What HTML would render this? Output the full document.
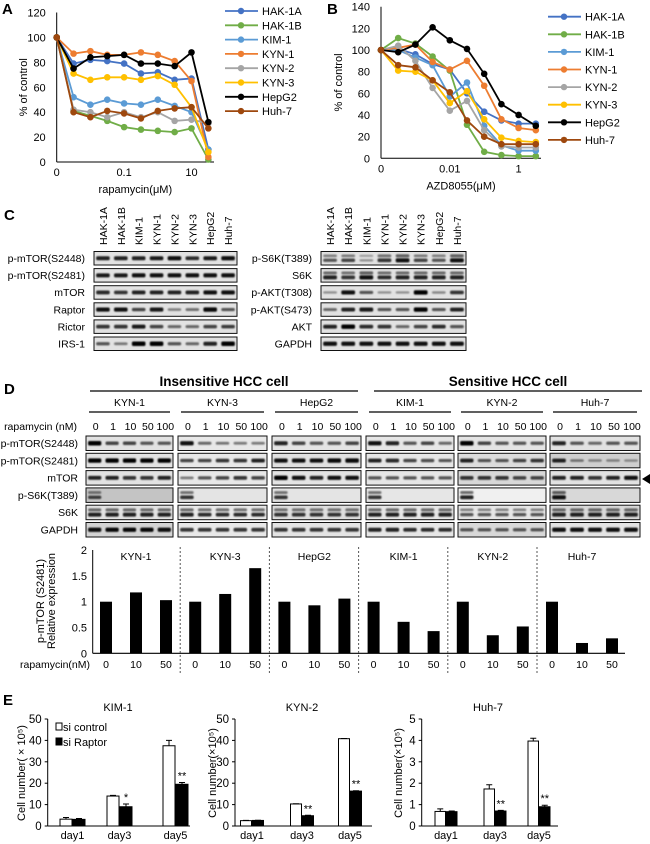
<!DOCTYPE html>
<html><head><meta charset="utf-8">
<style>
html,body{margin:0;padding:0;background:#fff;}
svg{display:block;font-family:"Liberation Sans",Arial,sans-serif;}
</style></head>
<body>
<svg id="fig" width="650" height="844" viewBox="0 0 650 844" xmlns="http://www.w3.org/2000/svg">
<defs><filter id="blur" x="-20%" y="-50%" width="140%" height="200%"><feGaussianBlur stdDeviation="0.7"/></filter></defs>
</svg>
<script>
// ===== Panel A data =====
const aSeriesNames = ["HAK-1A","HAK-1B","KIM-1","KYN-1","KYN-2","KYN-3","HepG2","Huh-7"];
const aHAK1A = [100,79,82,81,79,71,72,66,67,10];
const aHAK1B = [100,41,37,33,28,26,25,24,27,2];
const aKIM1  = [100,52,46,50,47,46,50,45,40,10];
const aKYN1  = [100,87,89,86,86,88,86,81,65,4];
const aKYN2  = [100,42,40,36,40,36,40,33,34,31];
const aKYN3  = [100,71,66,68,68,66,69,62,44,8];
const aHepG2 = [100,75,84,85,86,79,79,77,88,32];
const aHuh7  = [100,40,36,41,39,35,41,43,44,27];
const aYTicks = [0,20,40,60,80,100,120];
const aXTickLabels = ["0","0.1","10"];
const aXTickIndex = [0,4,8];
// ===== Panel B data =====
const bHAK1A = [100,101,96,87,82,60,43,35,32,32];
const bHAK1B = [100,111,106,94,81,31,6,3,2,2];
const bKIM1  = [100,100,93,86,57,70,30,12,7,7];
const bKYN1  = [100,102,105,89,82,90,67,36,28,26];
const bKYN2  = [100,104,90,65,44,53,26,11,10,10];
const bKYN3  = [100,81,80,72,51,62,36,19,16,15];
const bHepG2 = [100,98,105,121,109,101,78,50,40,30];
const bHuh7  = [100,86,84,72,61,35,20,13,13,13];
const bYTicks = [0,20,40,60,80,100,120,140];
const bXTickLabels = ["0","0.01","1"];
const bXTickIndex = [0,4,8];
const seriesColors = ["#4472c4","#70ad47","#5b9bd5","#ed7d31","#a5a5a5","#ffc000","#000000","#9e480e"];
// ===== Panel D bar chart data =====
const dGroups = ["KYN-1","KYN-3","HepG2","KIM-1","KYN-2","Huh-7"];
const dDoses = ["0","10","50"];
const dValues = [[1,1.18,1.03],[1,1.15,1.65],[1,0.93,1.06],[1,0.61,0.43],[1,0.35,0.52],[1,0.2,0.29]];
const dYTicks = [0,0.5,1,1.5,2];
const dYTickLabels = ["0","0.5","1","1.5","2"];
// ===== Panel E data =====
const eCats = ["day1","day3","day5"];
const eTitles = ["KIM-1","KYN-2","Huh-7"];
const eCtrl = [[3.2,14,37.5],[2.5,10.3,40.8],[0.68,1.73,3.97]];
const eCtrlErr = [[0.8,0.3,2.5],[0.1,0.1,0.1],[0.12,0.2,0.13]];
const eRap = [[3.1,9,19.5],[2.6,4.8,16.3],[0.67,0.7,0.9]];
const eRapErr = [[0.4,1.3,0.8],[0.1,0.2,0.2],[0.03,0.03,0.07]];
const eStars = [["","*","**"],["","**","**"],["","**","**"]];
const eYMax = [50,50,5];
const eYTicks = [[0,10,20,30,40,50],[0,10,20,30,40,50],[0,1,2,3,4,5]];

const NS="http://www.w3.org/2000/svg";
const svg=document.getElementById("fig");
function el(tag,attrs,parent){const e=document.createElementNS(NS,tag);for(const k in attrs)e.setAttribute(k,attrs[k]);(parent||svg).appendChild(e);return e;}
function tx(x,y,s,size,anchor,parent,weight){const t=el("text",{x:x,y:y,"font-size":size,"text-anchor":anchor||"start",fill:"#000"},parent);if(weight)t.setAttribute("font-weight",weight);t.textContent=s;return t;}

[["A",2,14],["B",327,14],["C",4,220],["D",4,394],["E",3,705]].forEach(p=>{
  const t=tx(p[1],p[2],p[0],15,"start",null,"bold");
  
  
});

function lineChart(prefix,series,yTicks,yMax,x0,step,yZero,yTop,axisRight,tickLabels,tickIdx,xTitle,legX,legY0,legDy,yTitleX){
  const g=el("g",{});
  
  
  const yS=v=>yZero-(v/yMax)*(yZero-yTop);
  const xS=i=>x0+i*step;
  yTicks.forEach(v=>{
    const t=tx(x0-11,yS(v)+4,String(v),11,"end",g);
    
    
  });
  const ya=el("line",{x1:x0,y1:yTop,x2:x0,y2:yZero,stroke:"#000","stroke-width":1},g);
  
  
  const xa=el("line",{x1:x0,y1:yZero,x2:axisRight,y2:yZero,stroke:"#000","stroke-width":1},g);
  
  
  tickLabels.forEach((s,k)=>{
    const t=tx(xS(tickIdx[k]),yZero+14,s,11,"middle",g);
    
    
  });
  const xt=tx((x0+axisRight)/2,yZero+31,xTitle,11,"middle",g);
  
  
  const yt=tx(0,0,"% of control",11,"middle",g);
  yt.setAttribute("transform","translate("+yTitleX+","+((yZero+yTop)/2)+") rotate(-90)");
  
  
  series.forEach((vals,si)=>{
    const c=seriesColors[si];
    const pts=vals.map((v,i)=>xS(i).toFixed(1)+","+yS(v).toFixed(1)).join(" ");
    const pl=el("polyline",{points:pts,fill:"none",stroke:c,"stroke-width":1.8},g);
    
    
    vals.forEach((v,i)=>{
      const m=el("circle",{cx:xS(i),cy:yS(v),r:3.3,fill:c},g);
      
      
    });
    const ly=legY0+si*legDy;
    const ll=el("line",{x1:legX,y1:ly,x2:legX+33,y2:ly,stroke:c,"stroke-width":1.8},g);
    
    
    const lc=el("circle",{cx:legX+16,cy:ly,r:3.2,fill:c},g);
    
    
    const lt=tx(legX+37,ly+4,aSeriesNames[si],11,"start",g);
    
    
  });
}
lineChart("a",[aHAK1A,aHAK1B,aKIM1,aKYN1,aKYN2,aKYN3,aHepG2,aHuh7],aYTicks,120,56.7,16.85,162,12.5,214,aXTickLabels,aXTickIndex,"rapamycin(μM)",225,11,14.3,27);
lineChart("b",[bHAK1A,bHAK1B,bKIM1,bKYN1,bKYN2,bKYN3,bHepG2,bHuh7],bYTicks,140,381,17.2,158.3,6.7,541,bXTickLabels,bXTickIndex,"AZD8055(μM)",548,16.7,17.6,342);

function blot(name,x,y,w,h,lanes,bg,double,parent){
  const r=el("rect",{x:x,y:y,width:w,height:h,fill:bg,stroke:"#111","stroke-width":1},parent);
  
  
  const n=lanes.length,lw=w/n;
  lanes.forEach((v,i)=>{
    if(v<=0)return;
    const cx=x+lw*(i+0.5);
    const bands=double?[[y+h*0.32,v*0.5],[y+h*0.65,v]]:[[y+h*0.5,v]];
    bands.forEach(b=>{
      const bh=2+b[1]*2.4;
      const e=el("rect",{x:cx-lw*0.38,y:b[0]-bh/2,width:lw*0.76,height:bh,rx:1.5,fill:"#000",opacity:(0.25+0.75*b[1]).toFixed(2),filter:"url(#blur)"},parent);
      
      
    });
  });
}
const cLines=["HAK-1A","HAK-1B","KIM-1","KYN-1","KYN-2","KYN-3","HepG2","Huh-7"];
const cLeftRows=["p-mTOR(S2448)","p-mTOR(S2481)","mTOR","Raptor","Rictor","IRS-1"];
const cLeftVals=[[.8,.8,.8,.85,.9,.75,.85,.9],[.85,.85,.9,.9,.9,.9,.9,.9],[.75,.7,.8,.8,.8,.8,.9,.9],[.9,.9,.6,.85,.25,.35,.95,.5],[.7,.7,.85,.6,.4,.4,.6,.65],[.5,.3,1,1,.5,.4,.8,1]];
const cRightRows=["p-S6K(T389)","S6K","p-AKT(T308)","p-AKT(S473)","AKT","GAPDH"];
const cRightVals=[[.5,.6,.15,.7,.9,.6,.5,.9],[.8,.7,.9,.75,.8,.8,.8,.8],[.15,.9,.5,.15,.15,1,.2,.7],[.4,.8,.85,.5,.5,1,.5,.8],[.8,1,.75,.7,.4,.6,.75,.5],[.9,.9,.9,.9,.9,.9,.9,.9]];
const cDouble=[true,true,false,false,false,false];
const cG=el("g",{});


[[94,143,cLeftRows,cLeftVals,false],[321,145,cRightRows,cRightVals,true]].forEach(side=>{
  const bx=side[0],bw=side[1];
  cLines.forEach((s,i)=>{
    const t=tx(0,0,s,10.5,"start",cG);
    t.setAttribute("transform","translate("+(bx+bw*(i+0.5)/8+4)+",245) rotate(-90)");
    
    
  });
  side[2].forEach((rn,ri)=>{
    const y=251.5+ri*17.1;
    const t=tx(bx-9,y+10.5,rn,10.5,"end",cG);
    
    
    blot('c-blot-row',bx,y,bw,13.5,side[3][ri],"#e2e2e2",side[4]&&cDouble[ri],cG);
  });
});

const dG=el("g",{});


const hdr=[["Insensitive HCC cell",90,358],["Sensitive HCC cell",374,642]];
hdr.forEach(h=>{
  const t=tx((h[1]+h[2])/2,386,h[0],13.5,"middle",dG,"bold");
  
  
  const l=el("line",{x1:h[1],y1:391,x2:h[2],y2:391,stroke:"#000","stroke-width":1.2},dG);
  
  
});
const dBoxes=[[86,87],[178,89],[272,89],[366,88],[458,88],[550,90]];
const dRows=["p-mTOR(S2448)","p-mTOR(S2481)","mTOR","p-S6K(T389)","S6K","GAPDH"];
const dLaneDoses=["0","1","10","50","100"];
const dBlotVals=[
 [[1,.6,.6,.5,.5],[.9,.4,.35,.3,.3],[.8,.6,.5,.5,.6],[.9,.8,.5,.6,.4],[1,.6,.5,.5,.5],[.8,.5,.4,.5,.5]],
 [[1,1,1,1,1],[.6,.6,.7,.7,.8],[.9,.9,.9,.95,.95],[.8,.75,.6,.55,.5],[.8,.5,.5,.6,.7],[.8,.3,.2,.2,.15]],
 [[.8,.8,.7,.7,.8],[.3,.5,.6,.7,.6],[1,.9,.8,.9,.9],[.5,.5,.5,.5,.5],[.7,.7,.7,.6,.6],[.8,.8,.7,.8,.9]],
 [[.6,0,0,0,0],[.7,0,0,0,0],[.7,0,0,0,0],[.7,0,0,0,0],[.8,0,0,0,0],[.9,0,0,0,0]],
 [[.8,.8,.8,.8,.8],[.8,.75,.75,.75,.75],[.7,.7,.7,.7,.7],[.8,.8,.8,.8,.8],[.5,.5,.5,.5,.5],[.8,.8,.8,.8,.8]],
 [[.9,.95,.95,.95,.9],[.7,.7,.7,.7,.7],[.7,.7,.7,.7,.7],[.8,.8,.75,.75,.75],[.5,.5,.5,.5,.5],[.9,.9,.9,.9,.9]]
];
const dBg=[["#e2e2e2","#e8e8e8","#e4e4e4","#e6e6e6","#e4e4e4","#e2e2e2"],["#e2e2e2","#e8e8e8","#e0e0e0","#e6e6e6","#dcdcdc","#cfcfcf"],["#e2e2e2","#e8e8e8","#e4e4e4","#e6e6e6","#d8d8d8","#e2e2e2"],["#c4c4c4","#e4e4e4","#e4e4e4","#e6e6e6","#f0f0f0","#d8d8d8"],["#e2e2e2","#e8e8e8","#dedede","#e6e6e6","#e6e6e6","#d8d8d8"],["#d4d4d4","#e8e8e8","#e4e4e4","#e6e6e6","#d8d8d8","#e4e4e4"]];
const dDoubleRows=[false,false,false,true,true,false];
dBoxes.forEach((b,gi)=>{
  const t=tx(b[0]+b[1]/2,406,dGroups[gi],10.5,"middle",dG);
  
  
  const l=el("line",{x1:b[0]+3,y1:412,x2:b[0]+b[1]-3,y2:412,stroke:"#000","stroke-width":1.2},dG);
  
  
  dLaneDoses.forEach((s,i)=>{
    const d=tx(b[0]+b[1]*(i+0.5)/5+1,430,s,10.5,"middle",dG);
    
    
  });
  dRows.forEach((rn,ri)=>{
    blot('d-blot-row',b[0],436+ri*17.3,b[1],14.5,dBlotVals[ri][gi],dBg[ri][gi],dDoubleRows[ri],dG);
  });
});
const rl=tx(77,430,"rapamycin (nM)",10.5,"end",dG);


dRows.forEach((rn,ri)=>{
  const t=tx(78,436+ri*17.3+11,rn,10.5,"end",dG);
  
  
});
const arrow=el("polygon",{points:"642,479 650,474 650,484",fill:"#000"},dG);



const bc=el("g",{});


const dY=v=>653.3-v*51.6;
const dGX=g=>106+g*89.2;
dYTicks.forEach((v,k)=>{
  const t=tx(87,dY(v)+4,dYTickLabels[k],11,"end",bc);
  
  
});
const dya=el("line",{x1:92.7,y1:550,x2:92.7,y2:653.3,stroke:"#000"},bc);


const dxa=el("line",{x1:92.7,y1:653.3,x2:625,y2:653.3,stroke:"#000","stroke-width":1.2},bc);


const dyt=el("text",{"font-size":11,"text-anchor":"middle",transform:"translate(49,601) rotate(-90)"},bc);


const ts1=el("tspan",{x:0,dy:-5},dyt);ts1.textContent="p-mTOR (S2481)";
const ts2=el("tspan",{x:0,dy:11},dyt);ts2.textContent="Relative expression";
dGroups.forEach((gname,g)=>{
  const gt=tx(dGX(g)+30,560,gname,10.5,"middle",bc);
  
  
  if(g>0){
    const dv=el("line",{x1:dGX(g)-15,y1:547,x2:dGX(g)-15,y2:675,stroke:"#555","stroke-dasharray":"2,2"},bc);
    
    
  }
  dValues[g].forEach((v,k)=>{
    const x=dGX(g)+k*30;
    const r=el("rect",{x:x-6,y:dY(v),width:12,height:653.3-dY(v),fill:"#000"},bc);
    
    
    const lt=tx(x,668,dDoses[k],10.5,"middle",bc);
    
    
  });
});
const rx=tx(90,668,"rapamycin(nM)",10.5,"end",bc);



const eLayout=[{ax:47.7,right:190,cats:[72.5,119.5,175.5],titleX:118,ytX:21,bw:12},{ax:235,right:372,cats:[252,302,350],titleX:302,ytX:212,bw:11},{ax:421.7,right:558,cats:[446,495,539],titleX:488,ytX:398,bw:10.5}];
const eYTitle=["Cell number( × 10⁵)","Cell number(×10⁵)","Cell number(×10⁵)"];
eLayout.forEach((L,p)=>{
  const g=el("g",{});
  
  
  const yZ=826, yT=719;
  const yS=v=>yZ-v/eYMax[p]*(yZ-yT);
  const tt=tx(L.titleX,711,eTitles[p],11,"middle",g);
  
  
  eYTicks[p].forEach(v=>{
    const t=tx(L.ax-6,yS(v)+4,String(v),11.5,"end",g);
    
    
    const tk=el("line",{x1:L.ax-3,y1:yS(v),x2:L.ax,y2:yS(v),stroke:"#000"},g);
    
    
  });
  const ya=el("line",{x1:L.ax,y1:yT,x2:L.ax,y2:yZ,stroke:"#000"},g);
  
  
  const xa=el("line",{x1:L.ax,y1:yZ,x2:L.right,y2:yZ,stroke:"#000"},g);
  
  
  const yt=tx(0,0,eYTitle[p],11,"middle",g);
  yt.setAttribute("transform","translate("+(L.ytX+4)+",773) rotate(-90)");
  
  
  eCats.forEach((c,k)=>{
    const cx=L.cats[k];
    const ct=tx(cx,839,c,11,"middle",g);
    
    
    [[eCtrl,eCtrlErr,"#fff",-1,"control"],[eRap,eRapErr,"#000",1,"raptor"]].forEach(s=>{
      const v=s[0][p][k], er=s[1][p][k];
      const bx=cx+s[3]*(L.bw/2+0.5);
      const r=el("rect",{x:bx-L.bw/2,y:yS(v),width:L.bw,height:yZ-yS(v),fill:s[2],stroke:"#000","stroke-width":1},g);
      
      
      const e1=el("path",{d:"M"+bx+","+yS(v)+"V"+yS(v+er)+"M"+(bx-3)+","+yS(v+er)+"H"+(bx+3),stroke:"#000",fill:"none","stroke-width":1},g);
      
      
      if(s[4]==="raptor"&&eStars[p][k]){
        const st=tx(bx,yS(v+er)-3,eStars[p][k],11,"middle",g);
        
        
      }
    });
  });
});
const lg1=el("rect",{x:56,y:723,width:6,height:7,fill:"#fff",stroke:"#000"});


const lgt1=tx(63,731,"si control",11);


const lg2=el("rect",{x:56,y:738,width:6,height:7,fill:"#000",stroke:"#000"});


const lgt2=tx(63,746,"si Raptor",11);


</script>
</body></html>
